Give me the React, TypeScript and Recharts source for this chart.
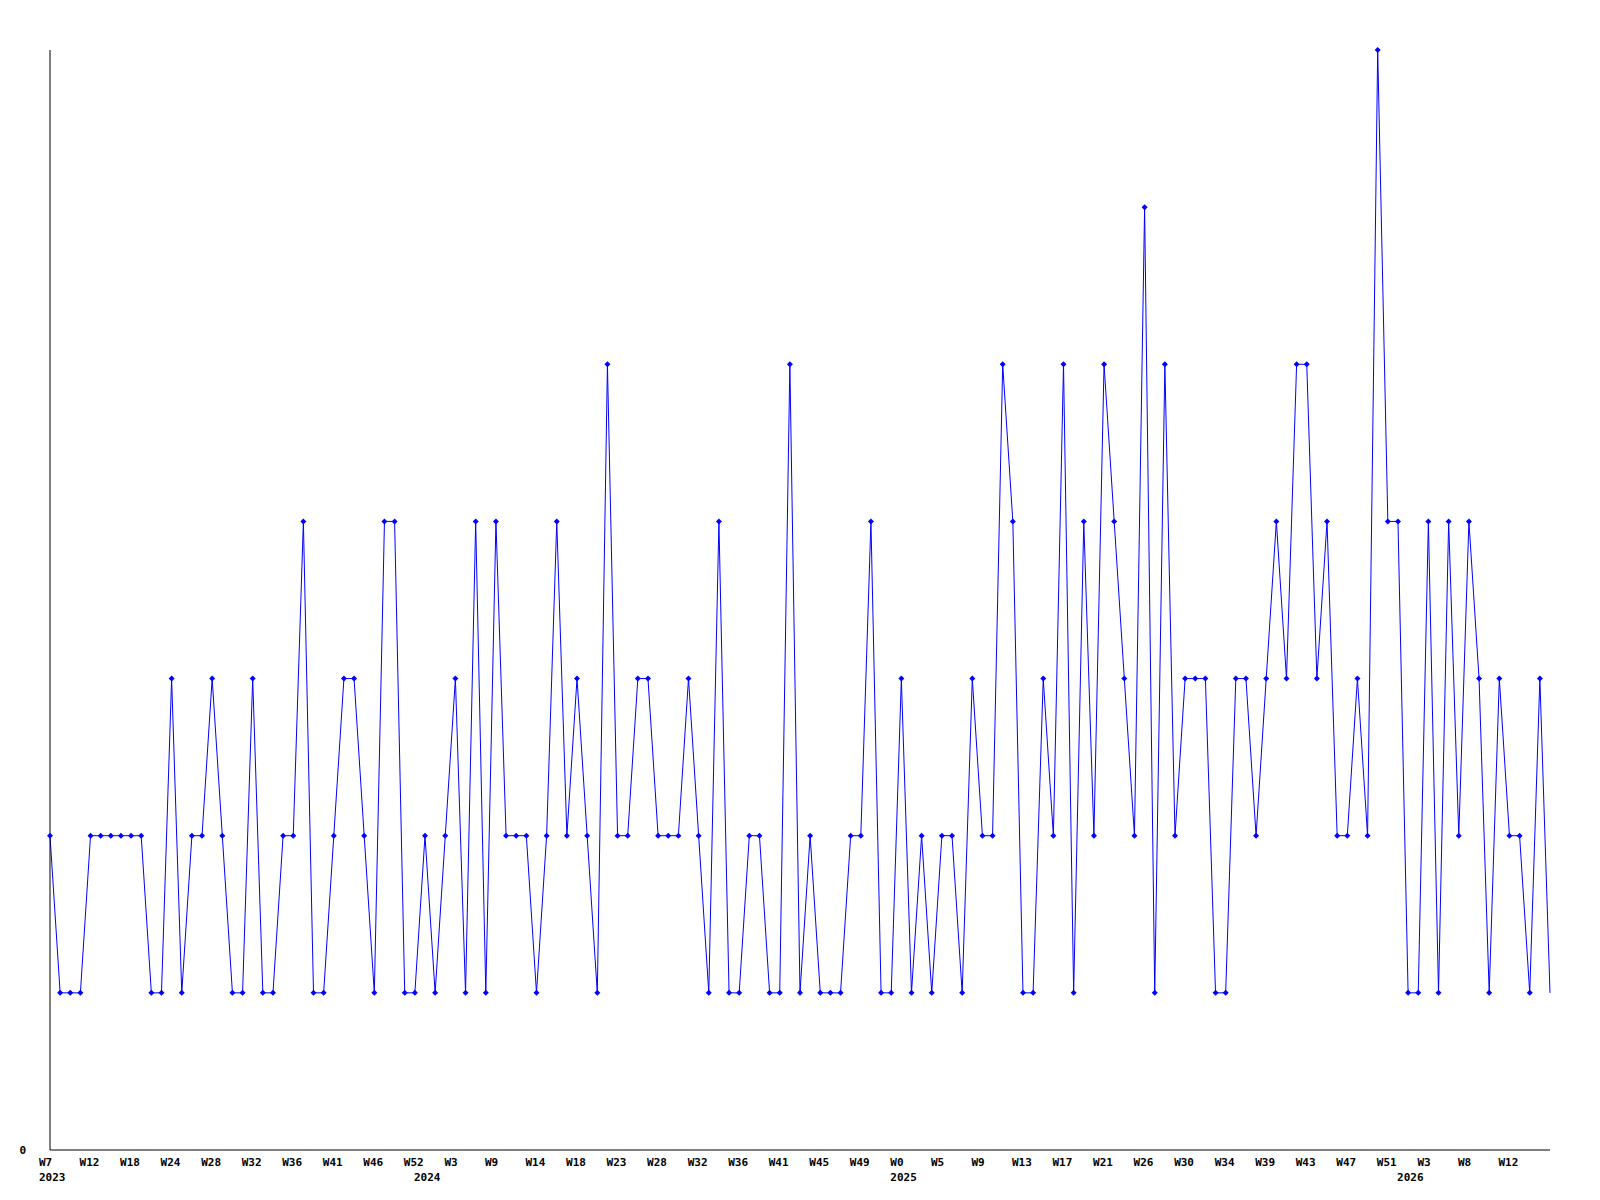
import { LineChart, Line, XAxis, YAxis } from "recharts";

// one value per point, 2023 W7 .. 2026
const values = [
  2, 1, 1, 1, 2, 2, 2, 2, 2, 2,
  1, 1, 3, 1, 2, 2, 3, 2, 1, 1,
  3, 1, 1, 2, 2, 4, 1, 1, 2, 3,
  3, 2, 1, 4, 4, 1, 1, 2, 1, 2,
  3, 1, 4, 1, 4, 2, 2, 2, 1, 2,
  4, 2, 3, 2, 1, 5, 2, 2, 3, 3,
  2, 2, 2, 3, 2, 1, 4, 1, 1, 2,
  2, 1, 1, 5, 1, 2, 1, 1, 1, 2,
  2, 4, 1, 1, 3, 1, 2, 1, 2, 2,
  1, 3, 2, 2, 5, 4, 1, 1, 3, 2,
  5, 1, 4, 2, 5, 4, 3, 2, 6, 1,
  5, 2, 3, 3, 3, 1, 1, 3, 3, 2,
  3, 4, 3, 5, 5, 3, 4, 2, 2, 3,
  2, 7, 4, 4, 1, 1, 4, 1, 4, 2,
  4, 3, 1, 3, 2, 2, 1, 3, 1,
];

// label shown on every 4th point
const weekLabels = [
  "W7", "W12", "W18", "W24", "W28", "W32", "W36", "W41", "W46", "W52",
  "W3", "W9", "W14", "W18", "W23", "W28", "W32", "W36", "W41", "W45", "W49",
  "W0", "W5", "W9", "W13", "W17", "W21", "W26", "W30", "W34", "W39", "W43", "W47", "W51",
  "W3", "W8", "W12",
];

// first point of each year
const yearStarts = [
  { index: 0, year: "2023" },
  { index: 37, year: "2024" },
  { index: 84, year: "2025" },
  { index: 134, year: "2026" },
];

const data = values.map((v, i) => ({ i, v }));

const FONT = "'DejaVu Sans Mono', monospace";

function WeekTick(props: any) {
  const { x, y, payload } = props;
  const idx = Number(payload.value);
  const week = idx % 4 === 0 ? weekLabels[idx / 4] : undefined;
  const year = yearStarts.find((d) => d.index === idx);
  return (
    <g>
      {week && (
        <text x={x - 11} y={y + 16} fontFamily={FONT} fontSize={11} fontWeight="bold" fill="#000">
          {week}
        </text>
      )}
      {year && (
        <text x={x - 11} y={y + 31} fontFamily={FONT} fontSize={11} fontWeight="bold" fill="#000">
          {year.year}
        </text>
      )}
    </g>
  );
}

function ZeroTick(props: any) {
  const { x, y, payload } = props;
  return (
    <text x={x - 24} y={y + 4} textAnchor="end" fontFamily={FONT} fontSize={11} fontWeight="bold" fill="#000">
      {payload.value}
    </text>
  );
}

function Marker(props: any) {
  const { cx, cy, index } = props;
  if (index === values.length - 1 || cx == null) return <g key={`m-${index}`} />;
  return (
    <path
      key={`m-${index}`}
      d={`M${cx - 3},${cy} L${cx},${cy - 3} L${cx + 3},${cy} L${cx},${cy + 3} Z`}
      fill="#0000ff"
    />
  );
}

export default function App() {
  return (
    <div style={{ position: "absolute", left: 0, top: 0, width: 1600, height: 1200, background: "#fff" }}>
      <LineChart width={1600} height={1200} data={data} margin={{ top: 50, right: 50, bottom: 10, left: 0 }}>
        <XAxis
          dataKey="i"
          interval={0}
          tick={<WeekTick />}
          tickLine={false}
          tickSize={0}
          tickMargin={0}
          height={40}
          axisLine={{ stroke: "#000", strokeWidth: 1 }}
        />
        <YAxis
          type="number"
          domain={[0, 7]}
          ticks={[0]}
          width={50}
          tick={<ZeroTick />}
          tickLine={false}
          tickSize={0}
          tickMargin={0}
          axisLine={{ stroke: "#000", strokeWidth: 1 }}
        />
        <Line
          type="linear"
          dataKey="v"
          stroke="#0000ff"
          strokeWidth={1}
          dot={Marker}
          activeDot={false}
          isAnimationActive={false}
        />
      </LineChart>
    </div>
  );
}
